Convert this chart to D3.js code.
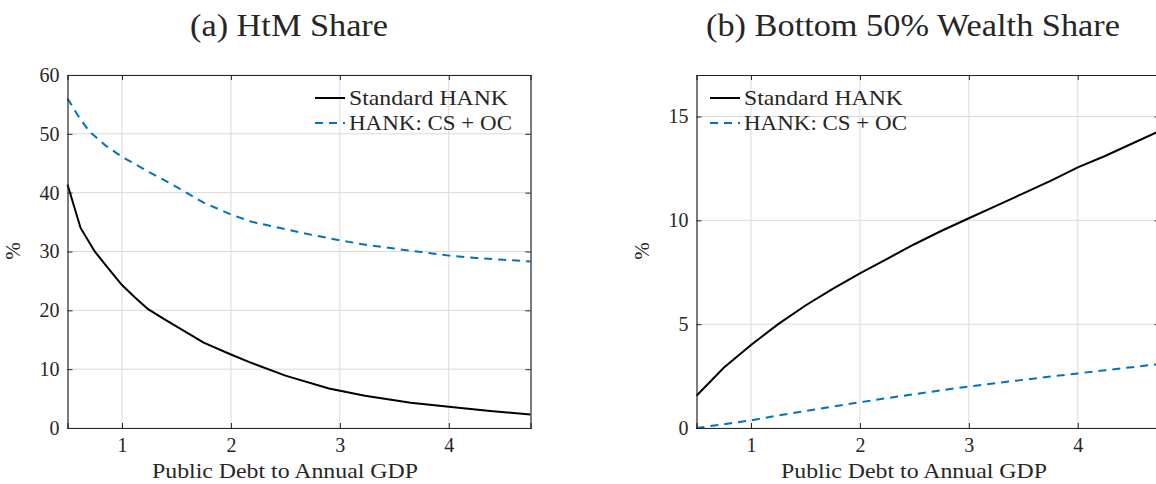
<!DOCTYPE html>
<html><head><meta charset="utf-8">
<script src="https://cdn.jsdelivr.net/npm/d3@7"></script>
<style>body{margin:0;background:#fff}svg{display:block}text{font-family:"Liberation Serif","Times New Roman",serif;fill:#262626}</style>
</head><body><svg id="c" width="1156" height="484"></svg>
<script>
const xTicks = [1, 2, 3, 4];
const leftYTicks = [0, 10, 20, 30, 40, 50, 60];
const rightYTicks = [0, 5, 10, 15];
const seriesNames = ["Standard HANK", "HANK: CS + OC"];
const titles = ["(a) HtM Share", "(b) Bottom 50% Wealth Share"];
const xLabel = "Public Debt to Annual GDP";
const yLabel = "%";

const htmStdX = [0.5, 0.62, 0.75, 0.88, 1.0, 1.12, 1.24, 1.38, 1.75, 2.0, 2.17, 2.5, 2.9, 3.23, 3.65, 4.0, 4.38, 4.75];
const htmStd  = [41.4, 34.0, 30.0, 27.0, 24.3, 22.2, 20.2, 18.6, 14.5, 12.5, 11.2, 8.9, 6.7, 5.5, 4.3, 3.6, 2.9, 2.3];
const htmCsX = [0.5, 0.6, 0.7, 0.85, 1.0, 1.25, 1.5, 1.75, 2.0, 2.2, 2.5, 2.75, 3.0, 3.25, 3.5, 3.75, 4.0, 4.25, 4.5, 4.75];
const htmCs  = [56.0, 53.0, 50.4, 48.0, 46.1, 43.5, 41.0, 38.3, 36.3, 35.0, 33.8, 32.8, 31.9, 31.1, 30.5, 29.9, 29.3, 28.9, 28.6, 28.3];

const wealthX = [0.5, 0.75, 1.0, 1.25, 1.5, 1.75, 2.0, 2.25, 2.5, 2.75, 3.0, 3.25, 3.5, 3.75, 4.0, 4.25, 4.5, 4.75];
const wealthStd = [1.55, 2.9, 4.0, 5.0, 5.9, 6.7, 7.45, 8.15, 8.85, 9.5, 10.1, 10.7, 11.3, 11.9, 12.55, 13.1, 13.7, 14.3];
const wealthCs  = [0.0, 0.18, 0.37, 0.6, 0.82, 1.03, 1.24, 1.44, 1.63, 1.82, 2.0, 2.16, 2.32, 2.48, 2.63, 2.78, 2.93, 3.08];

const svg = d3.select("#c");
const axisCol = "#262626", gridCol = "#dadada", blue = "#0072BD";

function panel(cfg) {
  const g = svg.append("g");
  const x = d3.scaleLinear().domain([0.5, 4.75]).range([cfg.left, cfg.left + 463]);
  const y = d3.scaleLinear().domain(cfg.yDomain).range([428, 75]);
  const [x0, x1] = x.range(), [y0, y1] = y.range();
  g.selectAll(".gx").data(xTicks).join("line").attr("x1", d => x(d)).attr("x2", d => x(d))
    .attr("y1", y1).attr("y2", y0).attr("stroke", gridCol).attr("stroke-width", 1);
  g.selectAll(".gy").data(cfg.yTicks).join("line").attr("y1", d => y(d)).attr("y2", d => y(d))
    .attr("x1", x0).attr("x2", x1).attr("stroke", gridCol).attr("stroke-width", 1);
  const line = d3.line().x(d => x(d[0])).y(d => y(d[1]));
  g.append("path").datum(d3.zip(cfg.csX, cfg.cs)).attr("d", line).attr("fill", "none")
    .attr("stroke", blue).attr("stroke-width", 2).attr("stroke-dasharray", "8,6");
  g.append("path").datum(d3.zip(cfg.stdX, cfg.std)).attr("d", line).attr("fill", "none")
    .attr("stroke", "#000").attr("stroke-width", 2);
  const ax = d3.axisBottom(x).tickValues(xTicks).tickSize(-5).tickPadding(10).tickFormat(d3.format("d"));
  const axT = d3.axisTop(x).tickValues(xTicks).tickSize(-5).tickFormat("");
  const ay = d3.axisLeft(y).tickValues(cfg.yTicks).tickSize(-5).tickPadding(8).tickFormat(d3.format("d"));
  const ayR = d3.axisRight(y).tickValues(cfg.yTicks).tickSize(-5).tickFormat("");
  const style = sel => { sel.selectAll("path,line").attr("stroke", axisCol); sel.select(".domain").attr("stroke-width", 1.2);
    sel.selectAll("text").attr("font-size", 20).attr("font-family", "Liberation Serif").attr("fill", axisCol); };
  g.append("g").attr("transform", `translate(0,${y0})`).call(ax).call(style);
  g.append("g").attr("transform", `translate(0,${y1})`).call(axT).call(style);
  g.append("g").attr("transform", `translate(${x0},0)`).call(ay).call(style);
  g.append("g").attr("transform", `translate(${x1},0)`).call(ayR).call(style);
  g.append("text").attr("x", cfg.titleX).attr("y", 36).attr("text-anchor", "middle").attr("font-size", 31)
    .attr("textLength", cfg.titleW).attr("lengthAdjust", "spacingAndGlyphs").text(cfg.title);
  g.append("text").attr("x", (x0 + x1) / 2 - 14).attr("y", 478).attr("text-anchor", "middle").attr("font-size", 22)
    .attr("textLength", 266).attr("lengthAdjust", "spacingAndGlyphs").text(xLabel);
  g.append("text").attr("transform", `translate(${cfg.yLabX},251) rotate(-90)`).attr("text-anchor", "middle").attr("font-size", 21).text(yLabel);
  const lg = g.append("g").attr("transform", `translate(${cfg.legX},0)`);
  [0, 1].forEach(i => {
    const yy = 98 + i * 25;
    lg.append("line").attr("x1", 0).attr("x2", 30).attr("y1", yy).attr("y2", yy)
      .attr("stroke", i ? blue : "#000").attr("stroke-width", 2).attr("stroke-dasharray", i ? "8,6" : null);
    lg.append("text").attr("x", 34).attr("y", yy + 7).attr("font-size", 21)
      .attr("textLength", i ? 163 : 159).attr("lengthAdjust", "spacingAndGlyphs").text(seriesNames[i]);
  });
}

panel({left: 67.5, yDomain: [0, 60], yTicks: leftYTicks, stdX: htmStdX, std: htmStd, csX: htmCsX, cs: htmCs,
  title: titles[0], titleX: 289, titleW: 198, yLabX: 20, legX: 315});
panel({left: 696.5, yDomain: [0, 17], yTicks: rightYTicks, stdX: wealthX, std: wealthStd, csX: wealthX, cs: wealthCs,
  title: titles[1], titleX: 913, titleW: 414, yLabX: 649, legX: 710});
</script></body></html>
